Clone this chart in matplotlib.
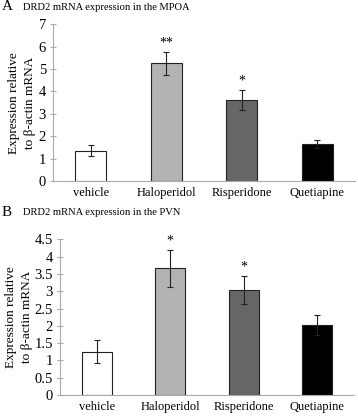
import numpy as np
import matplotlib
matplotlib.use("Agg")
from matplotlib import pyplot as plt

groups = ["vehicle", "Haloperidol", "Risperidone", "Quetiapine"]
colors = ["white", "#b3b3b3", "#666666", "black"]

mpoa_mean = [1.35, 5.25, 3.63, 1.65]
mpoa_err = [0.25, 0.52, 0.45, 0.17]
mpoa_stars = ["", "**", "*", ""]

pvn_mean = [1.25, 3.66, 3.03, 2.02]
pvn_err = [0.33, 0.54, 0.40, 0.29]
pvn_stars = ["", "*", "*", ""]

plt.rcParams['font.family'] = ['Liberation Serif', 'DejaVu Serif']

W, H = 358, 416
fig = plt.figure(figsize=(W / 100, H / 100), dpi=100)


def panel(rect, mean, err, stars, ymax, step, letter, title, ylab_x, letter_y):
	ax = fig.add_axes(rect)
	x = np.arange(len(groups))
	ax.bar(x, mean, width=0.41, color=colors, edgecolor="#222222", lw=0.8)
	ax.errorbar(x, mean, yerr=err, fmt="none", ecolor="#222222", elinewidth=0.8,
				capsize=2.5, capthick=0.8)
	for i in range(len(groups)):
		if stars[i]:
			ax.text(x[i], mean[i] + err[i] + ymax * 0.015, stars[i], ha="center",
					va="bottom", fontsize=10)
	ax.set_xlim(-0.5, 3.5)
	ax.set_ylim(0, ymax)
	ax.set_yticks(np.arange(0, ymax + 0.001, step))
	ax.set_yticklabels(["%g" % v for v in np.arange(0, ymax + 0.001, step)])
	ax.set_xticks(x)
	ax.set_xticklabels(groups)
	ax.spines['right'].set_color('none')
	ax.spines['top'].set_color('none')
	ax.spines['left'].set_color('#aaaaaa')
	ax.spines['bottom'].set_color('#aaaaaa')
	ax.tick_params(axis='y', length=4, direction='inout', color='#aaaaaa',
				   labelsize=10.5, pad=3)
	ax.tick_params(axis='x', length=0, labelsize=9, pad=4)
	fig.text(ylab_x / W, rect[1] + rect[3] * 0.5, "Expression relative\nto β-actin mRNA",
			 rotation=90, ha="center", va="center", multialignment="center",
			 fontsize=9.5, linespacing=1.4)
	fig.text(2 / W, 1 - letter_y / H, letter, fontsize=11, va="center", ha="left")
	fig.text(23 / W, 1 - letter_y / H, title, fontsize=7.6, va="center", ha="left")
	return ax


panel([53 / W, 1 - 181 / H, 302 / W, (181 - 24.3) / H], mpoa_mean, mpoa_err, mpoa_stars,
	  7, 1, "A", "DRD2 mRNA expression in the MPOA", 22, 7)
panel([60 / W, 1 - 395 / H, 294 / W, (395 - 239.3) / H], pvn_mean, pvn_err, pvn_stars,
	  4.5, 0.5, "B", "DRD2 mRNA expression in the PVN", 19, 213)

fig.savefig("out.png", dpi=100)
